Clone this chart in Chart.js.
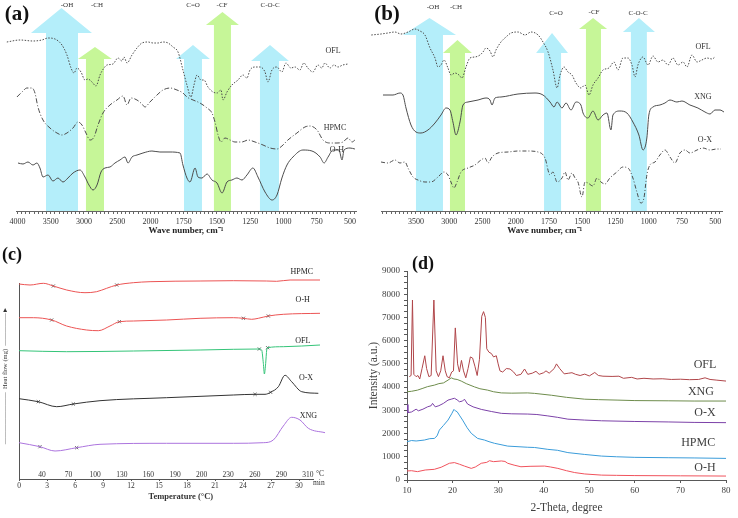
<!DOCTYPE html>
<html><head><meta charset="utf-8">
<script src="https://cdn.jsdelivr.net/npm/chart.js@4.4.1/dist/chart.umd.min.js"></script>
<style>
html,body{margin:0;padding:0;background:#fff;}
#wrap{position:relative;width:738px;height:518px;overflow:hidden;background:#fff;}
canvas{position:absolute;}
</style></head><body>
<div id="wrap">
<canvas id="cA" width="368" height="245" style="left:0;top:0;width:368px;height:245px"></canvas>
<canvas id="cB" width="370" height="245" style="left:368px;top:0;width:370px;height:245px"></canvas>
<canvas id="cC" width="368" height="273" style="left:0;top:245px;width:368px;height:273px"></canvas>
<canvas id="cD" width="370" height="273" style="left:368px;top:245px;width:370px;height:273px"></canvas>
</div>
<script>
// ---------------- DATA ----------------
// (a) FTIR: wavenumber (cm-1) and transmittance (a.u., stacked)
const a_OFL_wn = [4160,3960,3767,3632,3541,3436,3331,3256,3195,3150,3105,3045,2985,2940,2880,2819,2759,2699,2655,2564,2489,2428,2398,2353,2278,2203,2128,2038,1981,1944,1906,1868,1831,1793,1756,1726,1696,1673,1650,1620,1598,1568,1530,1500,1470,1455,1425,1388,1342,1305,1275,1252,1215,1177,1139,1117,1087,1050,1012,982,944,914,877,847,817,779,742,712,689,651,621,591,554,516];
const a_OFL_T  = [169,171,170,171,173,172,166,156,143,138,143,139,131,132,129,125,136,143,146,147,153,150,154,148,156,163,168,169,168,168,169,168,164,159,141,126,114,126,136,131,131,124,119,118,121,111,119,126,131,136,133,141,144,144,139,129,141,144,139,148,143,144,141,148,143,139,146,143,148,143,146,144,146,147];
const a_HPMC_wn = [4008,3932,3857,3782,3737,3692,3616,3511,3406,3331,3256,3165,3090,3030,2970,2910,2849,2789,2714,2609,2504,2413,2353,2293,2203,2128,2083,2008,1951,1906,1853,1801,1756,1726,1680,1628,1575,1538,1515,1492,1470,1440,1402,1365,1312,1267,1214,1154,1101,1049,1012,967,899,839,801,748,703,651,598,553,515,485,463];
const a_HPMC_T  = [114,119,123,123,118,104,91,83,78,76,78,83,89,86,78,71,74,86,98,106,111,115,106,113,111,107,104,109,116,121,123,121,118,114,111,108,103,98,89,76,69,73,71,69,69,71,69,66,63,62,65,71,78,84,85,81,71,68,68,69,73,69,71];
const a_OH_wn = [3992,3917,3842,3767,3707,3662,3616,3541,3466,3391,3316,3241,3165,3060,2985,2925,2864,2804,2744,2684,2609,2534,2459,2383,2338,2278,2203,2113,1989,1929,1853,1778,1756,1726,1703,1665,1643,1613,1575,1538,1500,1462,1425,1388,1350,1312,1275,1230,1192,1139,1086,1049,1012,974,929,854,786,725,695,665,628,583,560,545,500,463];
const a_OH_T  = [48,47,49,46,48,43,34,36,30,33,29,33,38,41,34,26,21,26,39,43,44,48,51,54,48,54,56,58,60,59,59,58,46,33,29,43,34,33,37,31,28,18,29,31,33,31,36,43,34,19,11,16,33,46,54,61,60,54,48,54,61,61,51,61,63,62];

// (b) FTIR
const b_OFL_wn = [4172,4026,3921,3816,3726,3620,3515,3440,3365,3289,3214,3169,3124,3079,3019,2974,2913,2853,2808,2748,2688,2613,2537,2492,2447,2387,2342,2297,2222,2146,2071,1983,1930,1885,1832,1795,1757,1720,1689,1667,1637,1607,1577,1547,1510,1479,1449,1419,1381,1344,1299,1261,1231,1194,1156,1126,1103,1081,1043,1005,968,930,893,855,818,780,742,712,675,637,600,562,524,502];
const b_OFL_T  = [176,177,178,179,177,179,182,180,176,163,153,144,146,151,143,136,138,136,133,144,153,154,156,159,163,160,154,161,169,174,178,179,176,179,176,169,159,141,123,136,144,139,136,128,123,126,116,126,133,141,143,149,141,153,153,146,134,146,154,146,155,149,151,146,153,146,149,144,156,149,151,153,152,154];
const b_XNG_wn = [3996,3846,3741,3696,3650,3575,3500,3425,3320,3214,3124,3049,2989,2944,2898,2838,2793,2718,2567,2447,2387,2357,2312,2222,1983,1855,1795,1742,1712,1689,1652,1622,1584,1547,1510,1494,1457,1419,1381,1344,1314,1284,1269,1217,1164,1119,1074,1043,1014,999,968,916,878,840,788,750,690,630,577,539,502,464,434];
const b_XNG_T  = [116,116,118,116,103,86,79,78,81,88,96,103,101,89,76,89,106,109,111,113,111,106,113,114,117,118,116,109,104,109,103,108,101,109,106,98,93,100,91,96,98,81,96,100,98,89,76,61,73,96,104,106,108,111,109,110,106,103,99,97,101,101,99];
const b_OX_wn = [4026,3921,3816,3741,3665,3620,3545,3470,3365,3274,3169,3079,3019,2974,2929,2883,2823,2718,2613,2522,2462,2417,2357,2267,2116,1983,1908,1832,1780,1742,1720,1689,1652,1629,1607,1577,1554,1532,1502,1479,1457,1419,1389,1359,1329,1292,1239,1194,1156,1119,1089,1059,1036,1014,991,953,916,878,840,803,765,727,690,637,592,539,487,457];
const b_OX_T  = [49,48,51,48,49,43,34,31,29,29,34,39,36,29,23,29,39,43,46,51,53,48,54,58,59,60,60,59,53,36,39,29,33,39,31,38,33,29,14,29,28,25,33,29,27,33,39,44,43,33,19,8,13,36,46,49,56,61,54,48,58,61,58,61,63,61,62,62];

const ftirMajorWn = [4000,3500,3000,2500,2000,1750,1500,1250,1000,750,500];

// (c) DSC: time (min) and heat flow (a.u., stacked)
const c_HPMC_t = [0,1.18,2.61,3.68,5.11,7.07,8.32,9.39,10.47,12.25,14.04,19.4,22.96,26.54,27.6,29.04,32.25];
const c_HPMC_v = [195,194,195.7,193,189,186.3,187.3,190.7,194,196.3,197.3,198,198.3,198,197.7,199,199];
const c_OH_t = [0,1.54,3.5,5.1,7.25,8.5,9.75,10.75,12.25,15.82,19.4,22.96,24.04,24.93,25.64,26.71,28.32,32.25];
const c_OH_v = [161.3,161.3,159,153,149,148.3,153,157.3,158,159,160.7,161.3,160.7,159.7,160.7,163,164.7,165.7];
const c_OFL_t = [0,5.11,12.25,19.4,22.96,25.75,26.0,26.18,26.29,26.43,26.54,26.64,28.32,32.25];
const c_OFL_v = [128.3,127.3,128,129,129.7,130,129,115.7,105,115.7,129,131.3,132.3,134];
const c_OX_t = [0,2.07,4.04,5.82,8.68,15.82,22.96,25.29,26.36,26.96,27.79,28.5,29.21,30.29,32.07];
const c_OX_v = [80.3,77.3,72.3,75,78.3,81.3,84,84.7,84.7,86.7,92.3,103.7,97.3,87.3,85.7];
const c_XNG_t = [0,2.25,3.86,6.18,8.68,15.82,22.96,26.18,27.25,28.32,29.21,30.11,31.0,32.79];
const c_XNG_v = [36.3,32.3,28,31.3,34.7,35.7,35.7,36.3,39,53,61.7,59,50.7,46.3];
const c_mark_t = [3.68,10.47,3.5,10.75,24.04,26.71,25.75,26.64,2.07,5.82,25.29,26.96,2.25,6.18];
const c_mark_v = [193,194,159,157.3,160.7,163,130,131.3,77.3,75,84.7,86.7,32.3,31.3];
const minuteTicks = [0,3,6,9,12,15,18,21,24,27,30];
const tempLabels = ['40','70','100','130','160','190','200','230','260','290','310'];

// (d) XRD: 2-theta (degree) and intensity (a.u.)
const d_OFL_2t = [10.5,10.9,11.2,11.5,12.0,12.4,12.8,13.3,13.9,14.3,14.8,15.3,15.9,16.4,16.9,17.4,17.9,18.4,18.8,19.3,19.8,20.2,20.6,21.1,21.5,21.95,22.4,22.9,23.4,23.9,24.4,24.9,25.4,25.9,26.4,26.8,27.2,27.5,28.0,28.5,29.0,29.6,30.0,30.4,31.0,31.8,32.6,33.4,34.0,35.0,35.8,36.5,37.5,38.3,39.0,40.0,40.5,41.2,42.3,42.8,43.5,44.5,45.5,46.2,47.0,48.0,49.0,50.0,51.2,52.0,53.0,55.0,56.5,57.5,59.3,60.5,62.0,64.0,66.0,68.0,70.0,72.0,74.0,75.4,76.5,78.0,80.0];
const d_OFL_I  = [4450,4500,7750,4550,4450,4500,4350,4800,5350,4800,4450,4500,7750,4700,4450,4700,5350,4700,4450,4400,4650,4700,6550,5000,4650,5150,4700,4400,4800,5300,5250,4900,4500,5200,7050,7250,7000,5650,5500,5450,5300,5350,5000,4700,4650,4800,4780,4650,4500,4550,4780,4550,4600,4680,4550,4620,4700,4600,4800,5000,4800,4570,4600,4620,4550,4500,4560,4480,4630,4500,4470,4460,4470,4380,4420,4350,4380,4350,4360,4330,4340,4320,4330,4400,4330,4300,4260];
const d_XNG_2t = [10,11,12.3,13.5,14.5,16,17,18,19,19.7,20.3,21,21.9,23,24.8,26,27.7,29,30.7,33,36.5,38,41.7,45,49,52,56.3,60,67.3,73,80];
const d_XNG_I  = [3800,3820,3870,3950,4020,4085,4150,4180,4300,4400,4350,4330,4260,4150,4010,3930,3870,3800,3750,3740,3750,3730,3650,3560,3480,3460,3440,3420,3410,3400,3400];
const d_OX_2t = [10,10.2,11,12,12.5,13.5,14.5,15.3,15.6,16.2,17,18,19,19.7,20.4,21,21.5,22.2,22.6,23.3,24.5,26.3,28.5,30.7,33,36.5,38.5,40.9,43,45.3,49,52.7,60,67.3,73,80];
const d_OX_I  = [3250,2900,2930,3050,2980,3050,3150,3200,3300,3150,3200,3300,3440,3480,3520,3450,3370,3400,3480,3270,3150,3040,2950,2870,2850,2840,2820,2760,2700,2620,2580,2550,2520,2500,2480,2470];
const d_HPMC_2t = [10,11,12,13.8,15,16,16.6,17.1,18,19,19.8,20.3,20.6,21,21.6,22.2,23.2,24.1,25.5,27,28,29.2,32.1,36.5,38,40.9,43,45.3,49,52.7,56,60,67.3,73,80];
const d_HPMC_I  = [1650,1700,1680,1720,1780,1790,1900,2150,2350,2580,2850,3040,2980,2940,2760,2580,2250,2010,1790,1720,1650,1580,1460,1410,1400,1320,1280,1180,1100,1030,1000,975,960,950,930];
const d_OH_2t = [10,11,12.3,14,16,17.5,19.3,20.4,21.5,22.6,24.1,25,26.3,27.5,28.1,29,30.7,31.5,32.1,33.5,35,37,40.2,41.5,43.1,45,46.8,49,52.7,56,60,70,80];
const d_OH_I  = [390,400,360,430,460,550,720,750,680,600,500,560,720,760,830,790,820,800,720,640,570,590,600,560,500,400,320,260,210,200,190,180,170];

// ---------------- HELPERS ----------------
const SERIF = "'Liberation Serif','Times New Roman',serif";
Chart.defaults.font.family = SERIF;
const BLUE = 'rgb(180,238,250)', GREEN = 'rgb(198,246,152)';
const LINE = '#4d4d4d';
// FTIR axis: 2x expanded below 2000 cm-1
function toU(w){ return w > 2000 ? 2000 + (w - 2000) / 2 : w; }
function pairs(xs, ys, fx){ return xs.map((x, i) => ({x: fx ? fx(x) : x, y: ys[i]})); }
const ftirTickU = []; for (let k = 0; 3000 - k * 31.25 >= 450; k++) ftirTickU.push(3000 - k * 31.25);
function ftirLabel(v, skip){
  for (const w of ftirMajorWn){ if (Math.abs(toU(w) - v) < 1 && skip.indexOf(w) < 0) return String(w); }
  return '';
}
function lineDs(data, color, dash, tension){
  return {data, borderColor: color, borderWidth: 1, borderDash: dash || [], pointRadius: 0,
          fill: false, cubicInterpolationMode: tension ? 'monotone' : 'default', tension: 0, clip: false};
}
function drawArrows(chart, arrows){
  const x = chart.scales.x, y = chart.scales.y, ctx = chart.ctx;
  ctx.save();
  for (const a of arrows){
    const s1 = x.getPixelForValue(toU(a.shaft[0])), s2 = x.getPixelForValue(toU(a.shaft[1]));
    const h1 = x.getPixelForValue(toU(a.head[0])), h2 = x.getPixelForValue(toU(a.head[1]));
    const yt = y.getPixelForValue(a.top), yb = y.getPixelForValue(a.base), y0 = y.getPixelForValue(0);
    ctx.fillStyle = a.color;
    ctx.beginPath();
    ctx.moveTo(s1, y0); ctx.lineTo(s1, yb); ctx.lineTo(h1, yb); ctx.lineTo((h1 + h2) / 2, yt);
    ctx.lineTo(h2, yb); ctx.lineTo(s2, yb); ctx.lineTo(s2, y0); ctx.closePath(); ctx.fill();
  }
  ctx.restore();
}
function drawTexts(chart, items){
  const ctx = chart.ctx; ctx.save();
  for (const t of items){
    ctx.font = t.font; ctx.fillStyle = t.color || '#333';
    ctx.textAlign = t.align || 'center'; ctx.textBaseline = 'middle';
    let px, py;
    if (t.abs){ px = t.abs[0]; py = t.abs[1]; }
    else {
      const xv = (t.w !== undefined) ? toU(t.w) : t.xv;
      px = chart.scales.x.getPixelForValue(xv);
      py = chart.scales.y.getPixelForValue(t.yv);
    }
    ctx.fillText(t.text, px, py);
  }
  ctx.restore();
}
function ftirOptions(minU, maxU, skip, padL, padR, title){
  return {
    responsive: false, animation: false, devicePixelRatio: 1,
    layout: {padding: {left: padL, right: padR, top: 0, bottom: 0}},
    plugins: {legend: {display: false}, tooltip: {enabled: false}},
    scales: {
      x: {type: 'linear', reverse: true, min: minU, max: maxU,
          border: {display: true, color: '#666', width: 1},
          grid: {display: true, drawOnChartArea: false, drawTicks: true, tickLength: 3, color: '#666'},
          ticks: {autoSkip: false, maxRotation: 0, minRotation: 0, padding: 3, color: '#333',
                  font: {family: SERIF, size: 8}, callback: (v) => ftirLabel(v, skip)},
          afterBuildTicks: (s) => { s.ticks = ftirTickU.map(v => ({value: v})); },
          afterFit: (s) => { s.height = 34; },
          title: {display: true, text: title, color: '#222', font: {family: SERIF, size: 9, weight: 'bold'}, padding: {top: 0, bottom: 9}}},
      y: {type: 'linear', display: false, min: 0, max: 211}
    }
  };
}
const f7 = `7px ${SERIF}`, f8 = `8px ${SERIF}`;

// ---------------- (a) ----------------
const arrowsA = [
  {shaft: [3571, 3090], head: [3797, 2880], top: 203, base: 178, color: BLUE},
  {shaft: [2970, 2699], head: [3090, 2579], top: 164, base: 152, color: GREEN},
  {shaft: [1748, 1613], head: [1808, 1553], top: 166, base: 152, color: BLUE},
  {shaft: [1523, 1395], head: [1583, 1335], top: 199, base: 186, color: GREEN},
  {shaft: [1177, 1034], head: [1244, 959], top: 166, base: 150, color: BLUE}];
const textsA = [
  {text: '(a)', abs: [17, 15], font: `bold 21px ${SERIF}`, color: '#111'},
  {text: '-OH', w: 3255, yv: 206, font: f7}, {text: '-CH', w: 2804, yv: 206, font: f7},
  {text: 'C=O', w: 1680, yv: 206, font: f7}, {text: '-CF', w: 1462, yv: 206, font: f7},
  {text: 'C-O-C', w: 1101, yv: 206, font: f7},
  {text: 'OFL', w: 628, yv: 160, font: f8}, {text: 'HPMC', w: 613, yv: 83, font: f8},
  {text: 'O-H', w: 598, yv: 61, font: f8}];
new Chart(document.getElementById('cA'), {
  type: 'line',
  data: {datasets: [
    lineDs(pairs(a_OFL_wn, a_OFL_T, toU), LINE, [1.5, 1.5], true),
    lineDs(pairs(a_HPMC_wn, a_HPMC_T, toU), LINE, [5, 2, 1, 2], true),
    lineDs(pairs(a_OH_wn, a_OH_T, toU), LINE, [], true)]},
  options: ftirOptions(455, 3011, [], 16, 12, 'Wave number, cm\u207B\u00B9'),
  plugins: [{id: 'annoA', beforeDatasetsDraw(c){ drawArrows(c, arrowsA); }, afterDraw(c){ drawTexts(c, textsA); }}]
});

// ---------------- (b) ----------------
const arrowsB = [
  {shaft: [3500, 3094], head: [3696, 2898], top: 193, base: 176, color: BLUE},
  {shaft: [2989, 2763], head: [3094, 2658], top: 171, base: 158, color: GREEN},
  {shaft: [1787, 1659], head: [1847, 1607], top: 178, base: 158, color: BLUE},
  {shaft: [1472, 1359], head: [1524, 1313], top: 193, base: 182, color: GREEN},
  {shaft: [1134, 1014], head: [1194, 953], top: 193, base: 179, color: BLUE}];
const textsB = [
  {text: '(b)', abs: [19, 15], font: `bold 21px ${SERIF}`, color: '#111'},
  {text: '-OH', w: 3244, yv: 204, font: f7}, {text: '-CH', w: 2898, yv: 204, font: f7},
  {text: 'C=O', w: 1697, yv: 198, font: f7}, {text: '-CF', w: 1411, yv: 199, font: f7},
  {text: 'C-O-C', w: 1080, yv: 198, font: f7},
  {text: 'OFL', w: 592, yv: 164, font: f8}, {text: 'XNG', w: 592, yv: 114, font: f8},
  {text: 'O-X', w: 577, yv: 71, font: f8}];
new Chart(document.getElementById('cB'), {
  type: 'line',
  data: {datasets: [
    lineDs(pairs(b_OFL_wn, b_OFL_T, toU), LINE, [1.5, 1.5], true),
    lineDs(pairs(b_XNG_wn, b_XNG_T, toU), LINE, [], true),
    lineDs(pairs(b_OX_wn, b_OX_T, toU), LINE, [4, 2, 1, 2], true)]},
  options: ftirOptions(449, 3013, [4000], 13, 16, 'Wave number, cm\u207B\u00B9      '),
  plugins: [{id: 'annoB', beforeDatasetsDraw(c){ drawArrows(c, arrowsB); }, afterDraw(c){ drawTexts(c, textsB); }}]
});

// ---------------- (c) ----------------
const RED = 'rgb(236,84,84)', GRN = 'rgb(52,196,120)', DARK = '#333', PUR = 'rgb(172,116,222)';
const textsC = [
  {text: '(c)', abs: [12, 10], font: `bold 18px ${SERIF}`, color: '#111'},
  {text: 'HPMC', xv: 30.3, yv: 207, font: f8, color: '#222'},
  {text: 'O-H', xv: 30.4, yv: 179, font: f8, color: '#222'},
  {text: 'OFL', xv: 30.4, yv: 138, font: f8, color: '#222'},
  {text: 'O-X', xv: 30.75, yv: 101, font: f8, color: '#222'},
  {text: 'XNG', xv: 31.0, yv: 63, font: f8, color: '#222'}];
new Chart(document.getElementById('cC'), {
  type: 'line',
  data: {datasets: [
    lineDs(pairs(c_HPMC_t, c_HPMC_v), RED, [], true),
    lineDs(pairs(c_OH_t, c_OH_v), RED, [], true),
    lineDs(pairs(c_OFL_t, c_OFL_v), GRN, [], true),
    lineDs(pairs(c_OX_t, c_OX_v), DARK, [], true),
    lineDs(pairs(c_XNG_t, c_XNG_v), PUR, [], true),
    {data: pairs(c_mark_t, c_mark_v), showLine: false, pointStyle: 'crossRot', pointRadius: 2.2,
     pointBorderColor: '#444', pointBorderWidth: 0.8, pointBackgroundColor: '#444', clip: false}]},
  options: {
    responsive: false, animation: false, devicePixelRatio: 1,
    layout: {padding: {left: 0, right: 55, top: 38, bottom: 0}},
    plugins: {legend: {display: false}, tooltip: {enabled: false}},
    scales: {
      x: {type: 'linear', position: 'bottom', weight: 1, min: 0, max: 31.5,
          border: {display: true, color: '#555'},
          grid: {display: true, drawOnChartArea: false, tickLength: 2, color: '#555'},
          ticks: {autoSkip: false, maxRotation: 0, padding: 1, font: {family: SERIF, size: 7.5}, color: '#333'},
          afterBuildTicks: (s) => { s.ticks = minuteTicks.map(v => ({value: v})); },
          afterFit: (s) => { s.height = 39; },
          title: {display: true, text: '              Temperature (\u00B0C)', color: '#333',
                  font: {family: SERIF, size: 8.5, weight: 'bold'}, padding: {top: 0, bottom: 16}}},
      xt: {type: 'linear', axis: 'x', position: 'bottom', weight: 0, min: -0.865, max: 10.188,
           border: {display: false}, grid: {display: false, drawTicks: false},
           ticks: {autoSkip: false, maxRotation: 0, padding: 2.5, font: {family: SERIF, size: 7.5}, color: '#333',
                   callback: (v) => tempLabels[Math.round(v)] || ''},
           afterBuildTicks: (s) => { s.ticks = tempLabels.map((_, i) => ({value: i})); },
           afterFit: (s) => { s.height = 11; }},
      y: {type: 'linear', position: 'left', min: 11, max: 196,
          border: {display: true, color: '#555'},
          grid: {display: true, drawOnChartArea: false, drawTicks: false},
          ticks: {display: false},
          afterFit: (s) => { s.width = 19; },
          title: {display: true, text: '————————  Heat flow (mg)  —————\u25BA', color: '#333',
                  font: {family: SERIF, size: 6.5}, padding: {top: 1, bottom: 0}}}
    }
  },
  plugins: [{id: 'annoC', afterDraw(c){
    const ctx = c.ctx, xs = c.scales.x, xt = c.scales.xt;
    ctx.save();
    ctx.strokeStyle = '#555'; ctx.lineWidth = 1;
    const lx = Math.round(c.chartArea.left) + 0.5;
    ctx.beginPath(); ctx.moveTo(lx, c.chartArea.bottom); ctx.lineTo(lx, xs.top + 0.5); ctx.stroke();
    ctx.fillStyle = '#333'; ctx.textAlign = 'left'; ctx.textBaseline = 'middle';
    ctx.font = `7.5px ${SERIF}`;
    ctx.fillText('\u00B0C', xt.getPixelForValue(10) + 8, xt.top + 6.25);
    ctx.fillText('min', xs.getPixelForValue(30) + 14, xs.top + 4);
    ctx.restore();
    drawTexts(c, textsC);
  }}]
});

// ---------------- (d) ----------------
const AX = '#595959', TXT = '#404040';
const yTicksD = []; for (let v = 0; v <= 9000; v += 250) yTicksD.push(v);
const xTicksD = [10, 20, 30, 40, 50, 60, 70, 80];
const f12 = `12px ${SERIF}`;
const textsD = [
  {text: '(d)', abs: [55, 19], font: `bold 18px ${SERIF}`, color: '#111'},
  {text: 'OFL', xv: 75.4, yv: 4945, font: f12, color: TXT},
  {text: 'XNG', xv: 74.5, yv: 3784, font: f12, color: TXT},
  {text: 'O-X', xv: 75.4, yv: 2881, font: f12, color: TXT},
  {text: 'HPMC', xv: 73.9, yv: 1591, font: f12, color: TXT},
  {text: 'O-H', xv: 75.4, yv: 516, font: f12, color: TXT}];
function xrdDs(xs, ys, color){
  return {data: pairs(xs, ys), borderColor: color, borderWidth: 1, pointRadius: 0, fill: false, tension: 0};
}
new Chart(document.getElementById('cD'), {
  type: 'line',
  data: {datasets: [
    xrdDs(d_OFL_2t, d_OFL_I, 'rgb(176,70,74)'),
    xrdDs(d_XNG_2t, d_XNG_I, 'rgb(110,140,76)'),
    xrdDs(d_OX_2t, d_OX_I, 'rgb(124,66,168)'),
    xrdDs(d_HPMC_2t, d_HPMC_I, 'rgb(58,156,218)'),
    xrdDs(d_OH_2t, d_OH_I, 'rgb(240,82,92)')]},
  options: {
    responsive: false, animation: false, devicePixelRatio: 1,
    layout: {padding: {left: 0, right: 12, top: 26, bottom: 0}},
    plugins: {legend: {display: false}, tooltip: {enabled: false}},
    scales: {
      x: {type: 'linear', min: 10, max: 80,
          border: {display: true, color: AX},
          grid: {display: true, drawOnChartArea: false, tickLength: 3, color: AX},
          ticks: {autoSkip: false, maxRotation: 0, padding: 2.5, font: {family: SERIF, size: 9}, color: TXT},
          afterBuildTicks: (s) => { s.ticks = xTicksD.map(v => ({value: v})); },
          afterFit: (s) => { s.height = 38; },
          title: {display: true, text: '2-Theta, degree', color: TXT, font: {family: SERIF, size: 11.5}, padding: {top: 0, bottom: 3}}},
      y: {type: 'linear', min: 0, max: 9000,
          border: {display: true, color: AX},
          grid: {display: true, drawOnChartArea: false, tickLength: 3, color: AX},
          ticks: {autoSkip: false, padding: 4, font: {family: SERIF, size: 9}, color: TXT,
                  callback: (v) => (v % 1000 === 0 ? String(v) : '')},
          afterBuildTicks: (s) => { s.ticks = yTicksD.map(v => ({value: v})); },
          afterFit: (s) => { s.width = 39; },
          title: {display: true, text: 'Intensity (a.u.)', color: TXT, font: {family: SERIF, size: 11.5, lineHeight: 1}, padding: {top: 0, bottom: 0}}}
    }
  },
  plugins: [{id: 'annoD', afterDraw(c){ drawTexts(c, textsD); }}]
});
</script>
</body></html>
